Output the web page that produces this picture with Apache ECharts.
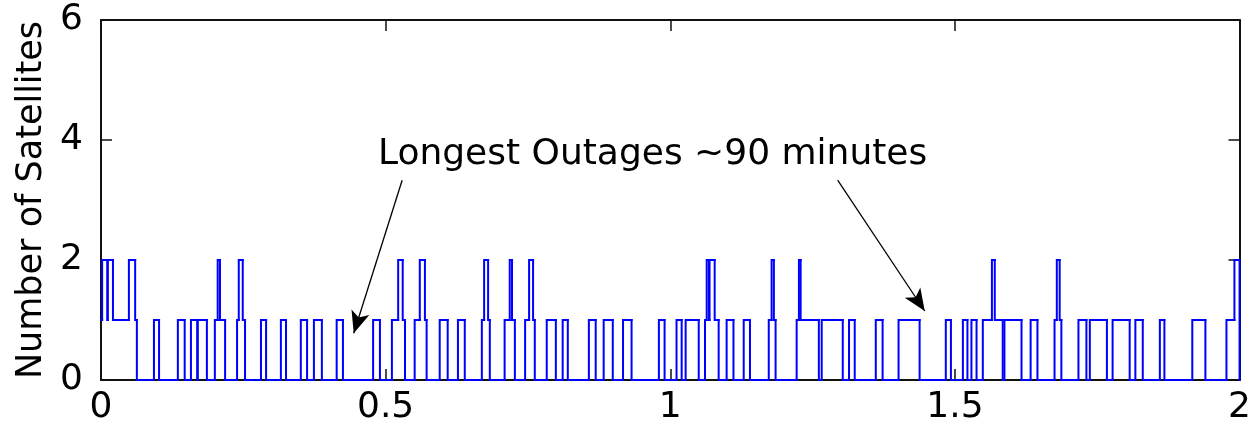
<!DOCTYPE html>
<html>
<head>
<meta charset="utf-8">
<script src="https://cdn.jsdelivr.net/npm/echarts@6/dist/echarts.min.js"></script>
<style>
html,body{margin:0;padding:0;background:#fff;}
#chart{width:1254px;height:431px;}
</style>
</head>
<body>
<div id="chart"></div>
<script>
// time (x) at which the satellite count changes, and the new count from that time on
const changeTimes = [
  0.000, 0.002, 0.011, 0.012, 0.021, 0.049, 0.060, 0.063,
  0.093, 0.102, 0.135, 0.147, 0.158, 0.169, 0.170, 0.186,
  0.200, 0.205, 0.209, 0.218, 0.239, 0.242, 0.249, 0.253,
  0.281, 0.290, 0.316, 0.325, 0.351, 0.362, 0.374, 0.388,
  0.414, 0.425, 0.478, 0.490, 0.511, 0.522, 0.530, 0.534,
  0.551, 0.560, 0.569, 0.572, 0.595, 0.609, 0.627, 0.639,
  0.669, 0.673, 0.680, 0.683, 0.709, 0.718, 0.722, 0.727,
  0.745, 0.752, 0.759, 0.762, 0.783, 0.799, 0.811, 0.820,
  0.857, 0.869, 0.883, 0.899, 0.917, 0.932, 0.980, 0.990,
  1.011, 1.020, 1.027, 1.050, 1.061, 1.064, 1.068, 1.069,
  1.078, 1.085, 1.099, 1.111, 1.129, 1.140, 1.173, 1.178,
  1.182, 1.185, 1.222, 1.226, 1.229, 1.261, 1.266, 1.303,
  1.314, 1.324, 1.361, 1.373, 1.401, 1.438, 1.484, 1.493,
  1.514, 1.522, 1.529, 1.538, 1.549, 1.565, 1.570, 1.584,
  1.587, 1.617, 1.633, 1.645, 1.675, 1.679, 1.684, 1.687,
  1.717, 1.731, 1.737, 1.767, 1.777, 1.807, 1.817, 1.830,
  1.860, 1.868, 1.917, 1.940, 1.977, 1.991, 2.000
];
const satCounts = [
  1, 2, 1, 2, 1, 2, 1, 0,
  1, 0, 1, 0, 1, 0, 1, 0,
  1, 2, 1, 0, 1, 2, 1, 0,
  1, 0, 1, 0, 1, 0, 1, 0,
  1, 0, 1, 0, 1, 2, 1, 0,
  1, 2, 1, 0, 1, 0, 1, 0,
  1, 2, 1, 0, 1, 2, 1, 0,
  1, 2, 1, 0, 1, 0, 1, 0,
  1, 0, 1, 0, 1, 0, 1, 0,
  1, 0, 1, 0, 1, 2, 1, 2,
  1, 0, 1, 0, 1, 0, 1, 2,
  1, 0, 1, 2, 1, 0, 1, 0,
  1, 0, 1, 0, 1, 0, 1, 0,
  1, 0, 1, 0, 1, 2, 1, 0,
  1, 0, 1, 0, 1, 2, 1, 0,
  1, 0, 1, 0, 1, 0, 1, 0,
  1, 0, 1, 0, 1, 2, 0
];
const xTickValues = [0, 0.5, 1, 1.5, 2];
const yTickValues = [0, 2, 4, 6];
const yAxisTitle = 'Number of Satellites';
const annotationText = 'Longest Outages ~90 minutes';
const annotationAnchor = [0.969, 3.75];
const arrowStarts = [[0.529, 3.33], [1.294, 3.33]];
const arrowEnds = [[0.444, 0.78], [1.447, 1.15]];

const font = 'DejaVu Sans';
// each item: [time, new count, time of next change, previous count]
const stepData = changeTimes.map((t, i) => [
  t,
  satCounts[i],
  i + 1 < changeTimes.length ? changeTimes[i + 1] : t,
  i > 0 ? satCounts[i - 1] : satCounts[i]
]);

const chart = echarts.init(document.getElementById('chart'), null, {renderer: 'canvas'});
const axisCommon = {
  type: 'value',
  axisLine: {show: true, onZero: false, lineStyle: {color: '#111', width: 2}},
  axisTick: {show: true, inside: true, length: 11, lineStyle: {color: '#111', width: 1.5}},
  splitLine: {show: false}
};
chart.setOption({
  animation: false,
  backgroundColor: '#fff',
  grid: {left: 101, right: 14, top: 20, bottom: 51, containLabel: false},
  xAxis: [
    Object.assign({}, axisCommon, {
      min: 0, max: 2, interval: 0.5, position: 'bottom',
      axisLabel: {show: true, margin: 10, color: '#000', fontFamily: font, fontSize: 36,
        formatter: v => xTickValues.includes(v) ? String(v) : ''}
    }),
    Object.assign({}, axisCommon, {
      min: 0, max: 2, interval: 0.5, position: 'top',
      axisLabel: {show: false}
    })
  ],
  yAxis: [
    Object.assign({}, axisCommon, {
      min: 0, max: 6, interval: 2, position: 'left',
      name: yAxisTitle, nameLocation: 'middle', nameGap: 52,
      nameTextStyle: {color: '#000', fontFamily: font, fontSize: 35},
      axisLabel: {show: true, margin: 18, color: '#000', fontFamily: font, fontSize: 36,
        formatter: v => yTickValues.includes(v) ? String(v) : ''}
    }),
    Object.assign({}, axisCommon, {
      min: 0, max: 6, interval: 2, position: 'right',
      axisLabel: {show: false}
    })
  ],
  series: [{
    type: 'custom',
    name: 'satellites',
    data: stepData,
    encode: {x: [0, 2], y: [1, 3]},
    clip: false,
    z: 3,
    renderItem: function (params, api) {
      const t0 = api.value(0), y1 = api.value(1), t1 = api.value(2), y0 = api.value(3);
      const pts = [api.coord([t0, y0]), api.coord([t0, y1]), api.coord([t1, y1])];
      return {
        type: 'polyline',
        shape: {points: pts},
        style: {stroke: '#0000ff', fill: null, lineWidth: 2, lineCap: 'square', lineJoin: 'miter'},
        silent: true
      };
    },
    markLine: {
      silent: true,
      symbol: ['none', 'arrow'],
      symbolSize: [14, 22],
      lineStyle: {color: '#000', width: 1.3, type: 'solid'},
      itemStyle: {color: '#000'},
      label: {show: false},
      data: arrowStarts.map((s, i) => [{coord: s}, {coord: arrowEnds[i]}])
    },
    markPoint: {
      silent: true,
      symbol: 'circle',
      symbolSize: 0,
      label: {show: true, position: 'inside', formatter: annotationText,
        color: '#000', fontFamily: font, fontSize: 36},
      data: [{coord: annotationAnchor}]
    }
  }]
});
</script>
</body>
</html>
